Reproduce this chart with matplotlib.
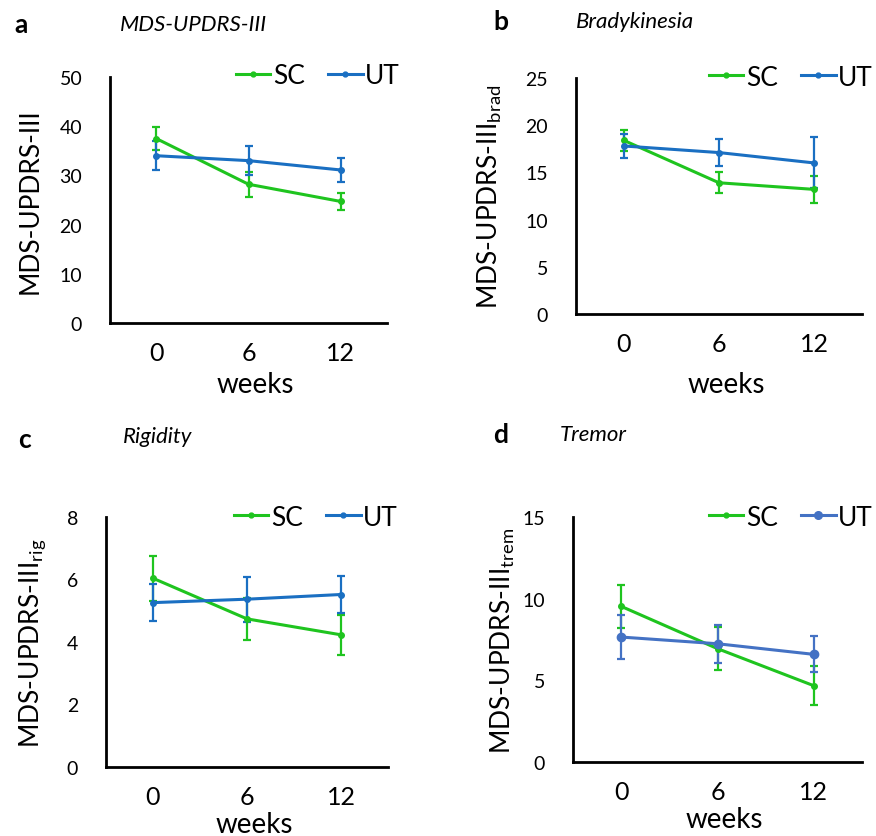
import matplotlib
matplotlib.use("Agg")
import matplotlib.pyplot as plt
from matplotlib.lines import Line2D
import numpy as np

plt.rcParams['font.family'] = ['Lato', 'DejaVu Sans']
plt.rcParams['mathtext.fontset'] = 'custom'
plt.rcParams['mathtext.rm'] = 'Lato'

weeks = ['0', '6', '12']

# Panel a: MDS-UPDRS-III
a_sc = [37.5, 28.2, 24.7]
a_sc_err = [2.4, 2.5, 1.7]
a_ut = [34.0, 33.0, 31.1]
a_ut_err = [3.0, 2.9, 2.4]

# Panel b: Bradykinesia
b_sc = [18.4, 13.9, 13.2]
b_sc_err = [1.1, 1.1, 1.4]
b_ut = [17.8, 17.1, 16.0]
b_ut_err = [1.3, 1.45, 2.7]

# Panel c: Rigidity
c_sc = [6.04, 4.74, 4.23]
c_sc_err = [0.72, 0.68, 0.65]
c_ut = [5.26, 5.37, 5.52]
c_ut_err = [0.6, 0.72, 0.6]

# Panel d: Tremor
d_sc = [9.53, 6.94, 4.67]
d_sc_err = [1.3, 1.33, 1.2]
d_ut = [7.65, 7.24, 6.59]
d_ut_err = [1.33, 1.15, 1.1]

GREEN = '#1fc41f'
BLUE = '#1a6fc2'
BLUE_D = '#4472c4'

W, H = 876, 837
fig = plt.figure(figsize=(W / 100, H / 100), dpi=100)


def px_axes(left, right, top, bottom):
    return fig.add_axes([left / W, 1 - bottom / H, (right - left) / W, (bottom - top) / H])


panels = [
    dict(box=(110, 387, 78, 324), sc=a_sc, sce=a_sc_err, ut=a_ut, ute=a_ut_err,
         ylim=50, yticks=[0, 10, 20, 30, 40, 50], ylabel='MDS-UPDRS-III',
         letter='a', title='MDS-UPDRS-III', lpos=(14, 25), tpos=(120, 25),
         leg=(400, 77), ylx=30, utc=BLUE, utms=4, xlab_y=385),
    dict(box=(576, 862, 79, 315), sc=b_sc, sce=b_sc_err, ut=b_ut, ute=b_ut_err,
         ylim=25, yticks=[0, 5, 10, 15, 20, 25], ylabel='MDS-UPDRS-III$_{\\mathregular{brad}}$',
         letter='b', title='Bradykinesia', lpos=(493, 22), tpos=(576, 22),
         leg=(873, 78), ylx=490, utc=BLUE, utms=4, xlab_y=385),
    dict(box=(106, 388, 518, 768), sc=c_sc, sce=c_sc_err, ut=c_ut, ute=c_ut_err,
         ylim=8, yticks=[0, 2, 4, 6, 8], ylabel='MDS-UPDRS-III$_{\\mathregular{rig}}$',
         letter='c', title='Rigidity', lpos=(18, 440), tpos=(123, 437),
         leg=(398, 518), ylx=33, utc=BLUE, utms=4, xlab_y=825),
    dict(box=(573, 862, 518, 763), sc=d_sc, sce=d_sc_err, ut=d_ut, ute=d_ut_err,
         ylim=15, yticks=[0, 5, 10, 15], ylabel='MDS-UPDRS-III$_{\\mathregular{trem}}$',
         letter='d', title='Tremor', lpos=(493, 435), tpos=(560, 435),
         leg=(873, 518), ylx=503, utc=BLUE_D, utms=6, xlab_y=820),
]

x = np.arange(len(weeks))
for p in panels:
    l, r, t, b = p['box']
    ax = px_axes(l, r, t, b)
    ax.errorbar(x, p['sc'], yerr=p['sce'], color=GREEN, lw=2.2, marker='o', ms=4,
                capsize=3, capthick=1.6, elinewidth=1.6, zorder=3)
    ax.errorbar(x, p['ut'], yerr=p['ute'], color=p['utc'], lw=2.2, marker='o', ms=p['utms'],
                capsize=3, capthick=1.6, elinewidth=1.6, zorder=3)
    ax.set_xlim(-0.5, 2.5)
    ax.set_ylim(0, p['ylim'])
    ax.set_xticks(x)
    ax.set_xticklabels(weeks, fontsize=18)
    ax.set_yticks(p['yticks'])
    ax.tick_params(axis='y', length=0, pad=20, labelsize=14)
    ax.tick_params(axis='x', length=0, pad=13)
    for s in ['top', 'right']:
        ax.spines[s].set_visible(False)
    for s in ['left', 'bottom']:
        ax.spines[s].set_linewidth(2)
        ax.spines[s].set_color('black')
    fig.text((l + r) / 2 / W + 0.008, 1 - p['xlab_y'] / H, 'weeks', fontsize=20,
             ha='center', va='center')
    fig.text(p['ylx'] / W, 1 - (t + b) / 2 / H, p['ylabel'], fontsize=19, rotation=90,
             ha='center', va='center')
    fig.text(p['lpos'][0] / W, 1 - p['lpos'][1] / H, p['letter'], fontsize=19,
             fontweight='bold', ha='left', va='center')
    fig.text(p['tpos'][0] / W, 1 - p['tpos'][1] / H, p['title'], fontsize=16,
             style='italic', ha='left', va='center')
    handles = [Line2D([], [], color=GREEN, lw=2.2, marker='o', ms=3.5),
               Line2D([], [], color=p['utc'], lw=2.2, marker='o', ms=p['utms'] - 0.5)]
    ax.legend(handles, ['SC', 'UT'], loc='center right',
              bbox_to_anchor=(p['leg'][0] / W, 1 - p['leg'][1] / H),
              bbox_transform=fig.transFigure, ncol=2, frameon=False, fontsize=19,
              handlelength=1.3, handletextpad=0.1, columnspacing=0.9,
              borderpad=0, borderaxespad=0)

fig.savefig('out.png', dpi=100)
